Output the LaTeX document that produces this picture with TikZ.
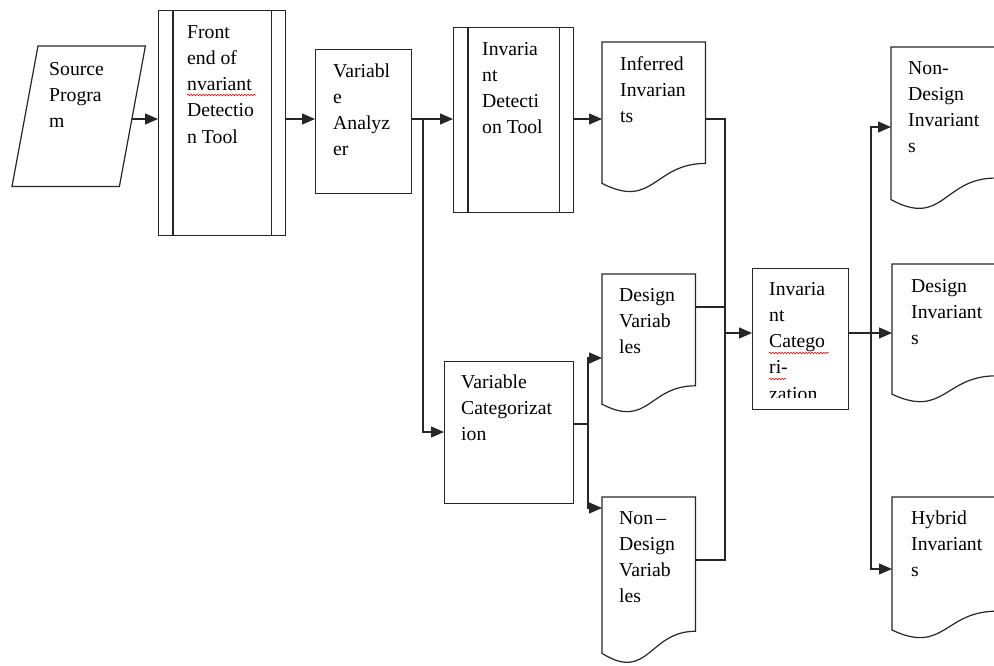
\documentclass[tikz,border=0pt]{standalone}
\usepackage{fontspec}
\setmainfont{Liberation Serif}
\usetikzlibrary{arrows.meta,calc,decorations.pathmorphing}
\newcommand\tl[1]{\begin{tabular}[t]{@{}l@{}}#1\end{tabular}}
\newcommand\docshape[1]{\draw[ln] (#1.north west) -- (#1.north east) -- ($(#1.north east)!0.802!(#1.south east)$) .. controls ($(#1.north)!0.802!(#1.south)$) and ($(#1.north)!1.108!(#1.south)$) .. ($(#1.north west)!0.934!(#1.south west)$) -- cycle;}
\newcommand\procbars[1]{\draw[ln] ($(#1.north west)+(15,0)$) -- ($(#1.south west)+(15,0)$); \draw[ln] ($(#1.north east)+(-15,0)$) -- ($(#1.south east)+(-15,0)$);}
\tikzset{
 ln/.style={line width=1.2pt, draw=black!85},
 box/.style={ln, rectangle, inner sep=0pt, anchor=north west},
 ghost/.style={rectangle, inner sep=0pt, anchor=north west, draw=none},
 lbl/.style={anchor=base west, inner sep=0pt, font=\fontsize{19.7}{26.3}\selectfont, text=black},
 arr/.style={ln, -{Triangle[length=13pt,width=11pt]}},
 wavy/.style={draw=red, line width=0.6pt, decorate, decoration={snake, segment length=3pt, amplitude=0.8pt}},
}
\begin{document}
\begin{tikzpicture}[x=1pt,y=-1pt]
\useasboundingbox (0,0) rectangle (994,665);
\clip (0,0) rectangle (994,665);
% source program (parallelogram)
\node[ghost, minimum width=133pt, minimum height=140pt] (src) at (12,46) {};
\draw[ln] (src.south west) -- ($(src.north west)+(26,0)$) -- (src.north east) -- ($(src.south east)+(-26,0)$) -- cycle;
\coordinate (src-out) at ($(src.north east)!0.52!($(src.south east)+(-26,0)$)$);
\node[lbl] (src-t) at (49,75) {\tl{Source\\Progra\\m}};
% front end
\node[box, minimum width=127pt, minimum height=225pt] (fe) at (158,10) {};
\procbars{fe}
\node[lbl] (fe-t) at (187,38) {\tl{Front\\end of\\nvariant\\Detectio\\n Tool}};
% variable analyzer
\node[box, minimum width=96pt, minimum height=144pt] (va) at (315,49) {};
\node[lbl] (va-t) at (333,77) {\tl{Variabl\\e\\Analyz\\er}};
% invariant detection tool
\node[box, minimum width=120pt, minimum height=185pt] (idt) at (453,27) {};
\procbars{idt}
\node[lbl] (idt-t) at (482,55) {\tl{Invaria\\nt\\Detecti\\on Tool}};
% variable categorization
\node[box, minimum width=129pt, minimum height=142pt] (vc) at (444,361) {};
\node[lbl] (vc-t) at (461,388) {\tl{Variable\\Categorizat\\ion}};
% invariant categorization
\node[box, minimum width=96pt, minimum height=141pt] (ic) at (752,268) {};
\begin{scope}
\clip (ic.north west) rectangle ($(ic.south east)+(0,-13)$);
\node[lbl] (ic-t) at (769,295) {\tl{Invaria\\nt\\Catego\\ri-\\zation}};
\end{scope}
% documents
\node[ghost, minimum width=103pt, minimum height=151pt] (inf) at (602,42) {};
\docshape{inf}
\node[lbl] (inf-t) at (620,70) {\tl{Inferred\\Invarian\\ts}};
\node[ghost, minimum width=93pt, minimum height=139pt] (dv) at (602,274) {};
\docshape{dv}
\node[lbl] (dv-t) at (619,301) {\tl{Design\\Variab\\les}};
\node[ghost, minimum width=93pt, minimum height=167pt] (ndv) at (602,497) {};
\docshape{ndv}
\node[lbl] (ndv-t) at (619,524) {\tl{Non\,–\\Design\\Variab\\les}};
\node[ghost, minimum width=104pt, minimum height=163pt] (ndi) at (891,47) {};
\docshape{ndi}
\node[lbl] (ndi-t) at (908,74) {\tl{Non-\\Design\\Invariant\\s}};
\node[ghost, minimum width=104pt, minimum height=139pt] (di) at (892,264) {};
\docshape{di}
\node[lbl] (di-t) at (911,292) {\tl{Design\\Invariant\\s}};
\node[ghost, minimum width=104pt, minimum height=142pt] (hi) at (892,497) {};
\docshape{hi}
\node[lbl] (hi-t) at (911,524) {\tl{Hybrid\\Invariant\\s}};
% spell-check underlines
\draw[wavy] ($(fe-t.base west)+(0,57)$) -- ++(69,0);
\draw[wavy] ($(ic-t.base west)+(0,58)$) -- ++(60,0);
\draw[wavy] ($(ic-t.base west)+(0,84)$) -- ++(17,0);
% helper rows / columns
\coordinate (r1) at (0,119);
\coordinate (rvc) at (0,432);
\coordinate (rvco) at (0,424);
\coordinate (rdvi) at (0,358);
\coordinate (rndvi) at (0,508);
\coordinate (rdv) at (0,307);
\coordinate (rndv) at (0,560);
\coordinate (ric) at (0,333);
\coordinate (rndi) at (0,127);
\coordinate (rhi) at (0,569);
\coordinate (j1) at (423,0);
\coordinate (j2) at (588,0);
\coordinate (j3) at (725,0);
\coordinate (j4) at (871,0);
% connectors
\draw[arr] (src-out) -- (fe.west |- src-out);
\draw[arr] (fe.east |- r1) -- (va.west |- r1);
\draw[arr] (va.east |- r1) -- (idt.west |- r1);
\draw[arr] (j1 |- r1) |- (vc.west |- rvc);
\draw[arr] (idt.east |- r1) -- (inf.west |- r1);
\draw[ln] (inf.east |- r1) -| (j3 |- rndv) -- (ndv.east |- rndv);
\draw[ln] (dv.east |- rdv) -- (j3 |- rdv);
\draw[arr] (j3 |- ric) -- (ic.west |- ric);
\draw[arr] (vc.east |- rvco) -| (j2 |- rdvi) -- (dv.west |- rdvi);
\draw[arr] (j2 |- rvco) |- (ndv.west |- rndvi);
\draw[arr] (ic.east |- ric) -- (di.west |- ric);
\draw[arr] (j4 |- ric) |- (ndi.west |- rndi);
\draw[arr] (j4 |- ric) |- (hi.west |- rhi);
\end{tikzpicture}
\end{document}
